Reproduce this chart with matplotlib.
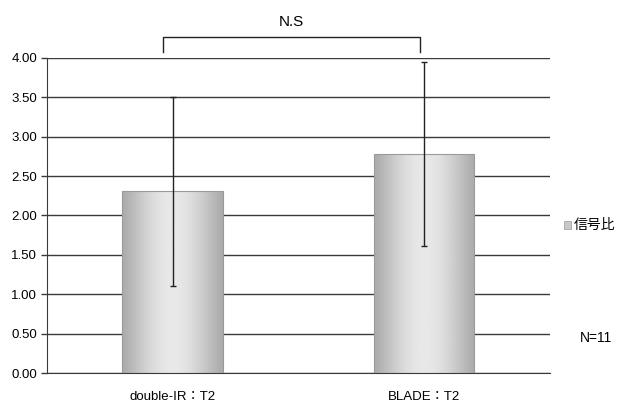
import numpy as np
import matplotlib.pyplot as plt
from matplotlib.patches import Rectangle

plt.rcParams['font.family'] = ['Liberation Sans', 'Noto Sans CJK JP', 'DejaVu Sans']

# signal ratio, mean +/- SD
categories = ["double-IR\uff1aT2", "BLADE\uff1aT2"]
means = [2.31, 2.78]
sds = [1.20, 1.17]
yticks = [0.0, 0.5, 1.0, 1.5, 2.0, 2.5, 3.0, 3.5, 4.0]

fig = plt.figure(figsize=(6.22, 4.05), dpi=100)
ax = fig.add_axes([0.0756, 0.079, 0.808, 0.778])

x = np.arange(len(categories))
width = 0.4
ax.set_xlim(-0.5, 1.5)
ax.set_ylim(0, 4.0)

# horizontal grid
for t in yticks:
    ax.axhline(t, color="#3a3a3a", lw=1.0, zorder=1)

# gray bars with a light vertical band in the middle
grad = np.linspace(-1, 1, 200)
shade = 0.67 + 0.24 * np.cos(grad * np.pi / 2) ** 1.2
img = np.tile(shade, (2, 1))
for xi, m in zip(x, means):
    ax.imshow(img, cmap="gray", vmin=0, vmax=1, aspect="auto",
              extent=(xi - width / 2, xi + width / 2, 0, m), zorder=2)
    ax.add_patch(Rectangle((xi - width / 2, 0), width, m, fill=False,
                           edgecolor="#9a9a9a", lw=0.8, zorder=3))

ax.errorbar(x, means, yerr=sds, fmt="none", ecolor="#222222", elinewidth=1.0,
            capsize=2, capthick=1.0, zorder=4)

ax.set_xlim(-0.5, 1.5)
ax.set_ylim(0, 4.0)
ax.set_yticks(yticks)
ax.set_yticklabels([f"{t:.2f}" for t in yticks], fontsize=9.5)
ax.set_xticks(x)
ax.set_xticklabels(categories, fontsize=9.5)
ax.tick_params(axis="x", length=0, pad=13)
ax.tick_params(axis="y", length=4, width=1, color="#3a3a3a", pad=3)
for side in ["top", "right"]:
    ax.spines[side].set_visible(False)
ax.spines["left"].set_color("#3a3a3a")
ax.spines["bottom"].set_color("#3a3a3a")

# significance bracket
bx0, bx1 = -0.04, 0.985
by, bdrop = 4.27, 4.08
ax.plot([bx0, bx0, bx1, bx1], [bdrop, by, by, bdrop], color="#222222",
        lw=1.0, clip_on=False)
ax.text((bx0 + bx1) / 2, 4.46, "N.S", ha="center", va="center", fontsize=11)

# legend entry and sample size
fig.patches.append(Rectangle((0.907, 0.435), 0.011, 0.02, transform=fig.transFigure,
                             facecolor="#c8c8c8", edgecolor="#999999", lw=0.5))
fig.text(0.922, 0.445, "信号比", fontsize=10, va="center")
fig.text(0.932, 0.165, "N=11", fontsize=10, va="center")

fig.savefig("out.png", dpi=100)
